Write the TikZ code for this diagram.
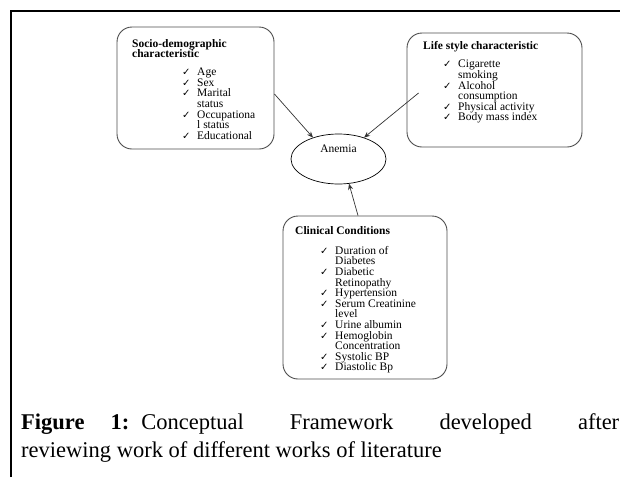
\documentclass[tikz,border=0pt]{standalone}
\usepackage{fontspec}
\setmainfont{Liberation Serif}
\newfontfamily\tickfont{DejaVu Sans}
\usetikzlibrary{arrows.meta,shapes.geometric}

\newcommand{\chk}{\makebox[15pt][l]{\tickfont\fontsize{10}{10.6}\selectfont ✓}}
\newcommand{\cnt}{\makebox[15pt][l]{}}

\tikzset{
  factorbox/.style={draw=black!70, line width=0.9pt, rounded corners=15pt, inner sep=0pt},
  boxtitle/.style={anchor=north west, inner sep=0pt, align=left, font=\fontsize{11.5}{10.6}\selectfont\bfseries},
  itemlist/.style={anchor=north west, inner sep=0pt, align=left, font=\fontsize{11.5}{10.6}\selectfont},
  link/.style={-{Stealth[length=6pt,width=5pt]}, black!80, line width=0.7pt}
}

\begin{document}
\begin{tikzpicture}[x=1pt,y=-1pt]
\useasboundingbox (0,0) rectangle (620,477);
% frame
\draw [line width=2.5pt] (11,477) -- (11,11) -- (621,11);

% factor boxes
\node [factorbox, minimum width=157pt, minimum height=122pt] (socio) at (195.5,88) {};
\node [factorbox, minimum width=175pt, minimum height=114pt] (life) at (494.5,90) {};
\node [factorbox, minimum width=164pt, minimum height=163pt] (clinic) at (365,297.5) {};

% outcome
\node [ellipse, draw, line width=0.7pt, minimum width=95pt, minimum height=50pt,
  label={[font=\fontsize{11.5}{10.6}\selectfont, yshift=10pt]center:Anemia}] (anemia) at (338.5,159) {};

% box texts
\node [boxtitle] (sociotitle) at (132,39) {Socio-demographic\\characteristic};
\node [itemlist] (sociolist) at (182,68) {\chk Age\\\chk Sex\\\chk Marital\\\cnt status\\\chk Occupationa\\\cnt l status\\\chk Educational};

\node [boxtitle] (lifetitle) at (423,41) {Life style characteristic};
\node [itemlist] (lifelist) at (443,60) {\chk Cigarette\\\cnt smoking\\\chk Alcohol\\\cnt consumption\\\chk Physical activity\\\chk Body mass index};

\node [boxtitle] (clinictitle) at (295,226) {Clinical Conditions};
\node [itemlist] (cliniclist) at (320,246) {\chk Duration of\\\cnt Diabetes\\\chk Diabetic\\\cnt Retinopathy\\\chk Hypertension\\\chk Serum Creatinine\\\cnt level\\\chk Urine albumin\\\chk Hemoglobin\\\cnt Concentration\\\chk Systolic BP\\\chk Diastolic Bp};

% arrows
\draw [link] ([yshift=-6pt]socio.east) -- (anemia.140);
\draw [link] ([xshift=12pt,yshift=-3pt]life.west) -- (anemia.40);
\draw [link] ([xshift=-7pt]clinic.north) -- (anemia.-67);

% caption
\node [anchor=base west, inner sep=0pt, font=\fontsize{22.5}{28}\selectfont] (capone) at (21,429)
  {\makebox[598pt][l]{\textbf{Figure\hspace{26pt}1:}\hspace{12pt}Conceptual\hfill Framework\hfill developed\hfill after}};
\node [anchor=base west, inner sep=0pt, font=\fontsize{22.5}{28}\selectfont] (captwo) at (21,457)
  {reviewing work of different works of literature};
\end{tikzpicture}
\end{document}
